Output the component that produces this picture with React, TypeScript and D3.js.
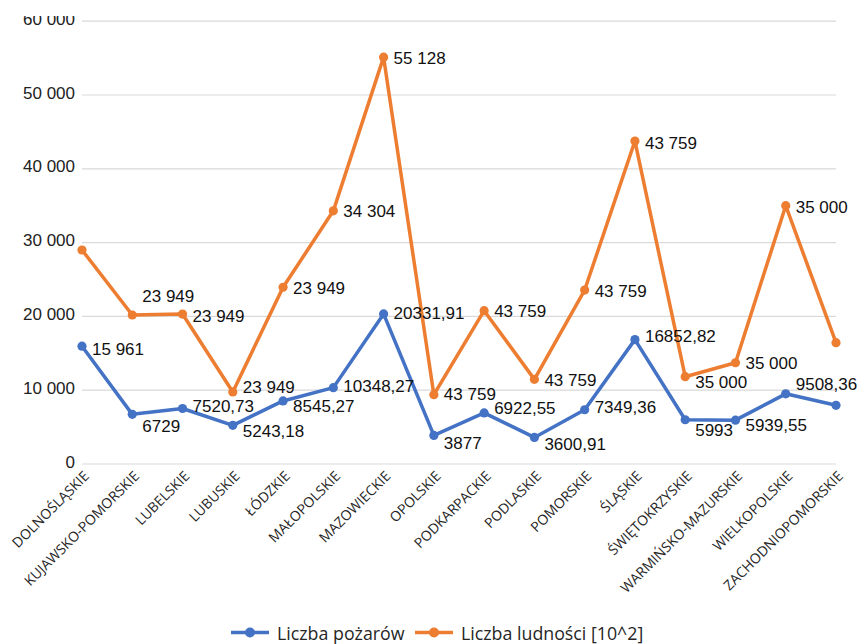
import React from "react";
import * as d3 from "d3";

const categories = [
  "DOLNOŚLĄSKIE", "KUJAWSKO-POMORSKIE", "LUBELSKIE", "LUBUSKIE", "ŁÓDZKIE",
  "MAŁOPOLSKIE", "MAZOWIECKIE", "OPOLSKIE", "PODKARPACKIE", "PODLASKIE",
  "POMORSKIE", "ŚLĄSKIE", "ŚWIĘTOKRZYSKIE", "WARMIŃSKO-MAZURSKIE",
  "WIELKOPOLSKIE", "ZACHODNIOPOMORSKIE",
];

// Liczba pożarów
const fires = [
  15961, 6729, 7520.73, 5243.18, 8545.27, 10348.27, 20331.91, 3877,
  6922.55, 3600.91, 7349.36, 16852.82, 5993, 5939.55, 9508.36, 7950,
];
const fireLabels = [
  "15 961", "6729", "7520,73", "5243,18", "8545,27", "10348,27", "20331,91", "3877",
  "6922,55", "3600,91", "7349,36", "16852,82", "5993", "5939,55", "9508,36", "",
];

// Liczba ludności [10^2]
const population = [
  29000, 20190, 20320, 9760, 23949, 34304, 55128, 9390,
  20770, 11470, 23570, 43759, 11830, 13720, 35000, 16440,
];
const populationLabels = [
  "", "23 949", "23 949", "23 949", "23 949", "34 304", "55 128", "43 759",
  "43 759", "43 759", "43 759", "43 759", "35 000", "35 000", "35 000", "",
];

const yTicks = [0, 10000, 20000, 30000, 40000, 50000, 60000];

const seriesNames = ["Liczba pożarów", "Liczba ludności [10^2]"];

// vertical nudges of the data labels (px), per point
const fireLabelDy = [3, 12, -2, 6, 6, -1, 0, 8, -4, 7, -2, -3, 11, 5, -9, 0];
const popLabelDy = [0, -18, 2, -4, 1, 1, 1, 0, 1, 1, 1, 2, 6, 1, 2, 0];

const BLUE = "#4472C4";
const ORANGE = "#ED7D31";

const W = 860;
const H = 644;
const plot = { left: 82, right: 836, top: 21.2, bottom: 464 };
const legendY = 632.5;

const fmtTick = (v: number) =>
  v === 0 ? "0" : d3.format(",")(v).replace(/,/g, " ");

export default function App() {
  const x = d3
    .scalePoint<string>()
    .domain(categories)
    .range([plot.left, plot.right]);
  const y = d3.scaleLinear().domain([0, 60000]).range([plot.bottom, plot.top]);

  const line = d3
    .line<number>()
    .x((_, i) => x(categories[i]) as number)
    .y((d) => y(d));

  const series = [
    { values: fires, labels: fireLabels, dy: fireLabelDy, color: BLUE },
    { values: population, labels: populationLabels, dy: popLabelDy, color: ORANGE },
  ];

  const numFont = "'Liberation Sans', Arial, sans-serif";
  const catFont = "'Open Sans', 'Noto Sans', sans-serif";

  return (
    <svg
      width={W}
      height={H}
      style={{ position: "absolute", left: 0, top: 0, background: "#fff" }}
    >
      <defs>
        <clipPath id="chart-clip">
          <rect x={0} y={16} width={W} height={H - 16} />
        </clipPath>
      </defs>
      <g clipPath="url(#chart-clip)">
        {/* gridlines */}
        {yTicks.map((t) => (
          <line
            key={t}
            x1={plot.left}
            x2={plot.right}
            y1={y(t)}
            y2={y(t)}
            stroke="#D9D9D9"
            strokeWidth={1.2}
          />
        ))}
        {/* y axis labels */}
        {yTicks.map((t) => (
          <text
            key={"yl" + t}
            x={75}
            y={y(t) - 2}
            textAnchor="end"
            dominantBaseline="central"
            fontFamily={numFont}
            fontSize={17}
            fill="#222"
          >
            {fmtTick(t)}
          </text>
        ))}
      </g>

      {/* category labels */}
      {categories.map((c) => (
        <text
          key={c}
          transform={`translate(${(x(c) as number) + 4},${plot.bottom + 9}) rotate(-45)`}
          textAnchor="end"
          dominantBaseline="central"
          fontFamily={catFont}
          fontSize={14}
          fill="#262626"
        >
          {c}
        </text>
      ))}

      {/* lines and markers */}
      {series.map((s, si) => (
        <g key={si}>
          <path
            d={line(s.values) || ""}
            fill="none"
            stroke={s.color}
            strokeWidth={3.5}
            strokeLinejoin="round"
          />
          {s.values.map((v, i) => (
            <circle
              key={i}
              cx={x(categories[i]) as number}
              cy={y(v)}
              r={4.6}
              fill={s.color}
            />
          ))}
        </g>
      ))}

      {/* data labels */}
      {series.map((s, si) => (
        <g key={"dl" + si}>
          {s.values.map((v, i) =>
            s.labels[i] ? (
              <text
                key={i}
                x={(x(categories[i]) as number) + 10}
                y={y(v) + s.dy[i]}
                dominantBaseline="central"
                fontFamily={numFont}
                fontSize={17}
                fill="#111"
              >
                {s.labels[i]}
              </text>
            ) : null
          )}
        </g>
      ))}

      {/* legend */}
      {[
        { x0: 231, color: BLUE, name: seriesNames[0] },
        { x0: 415, color: ORANGE, name: seriesNames[1] },
      ].map((l) => (
        <g key={l.name}>
          <line
            x1={l.x0}
            x2={l.x0 + 38}
            y1={legendY}
            y2={legendY}
            stroke={l.color}
            strokeWidth={3.5}
          />
          <circle cx={l.x0 + 19} cy={legendY} r={5} fill={l.color} />
          <text
            x={l.x0 + 46}
            y={legendY}
            dominantBaseline="central"
            fontFamily={catFont}
            fontSize={17.8}
            fill="#262626"
          >
            {l.name}
          </text>
        </g>
      ))}
    </svg>
  );
}
